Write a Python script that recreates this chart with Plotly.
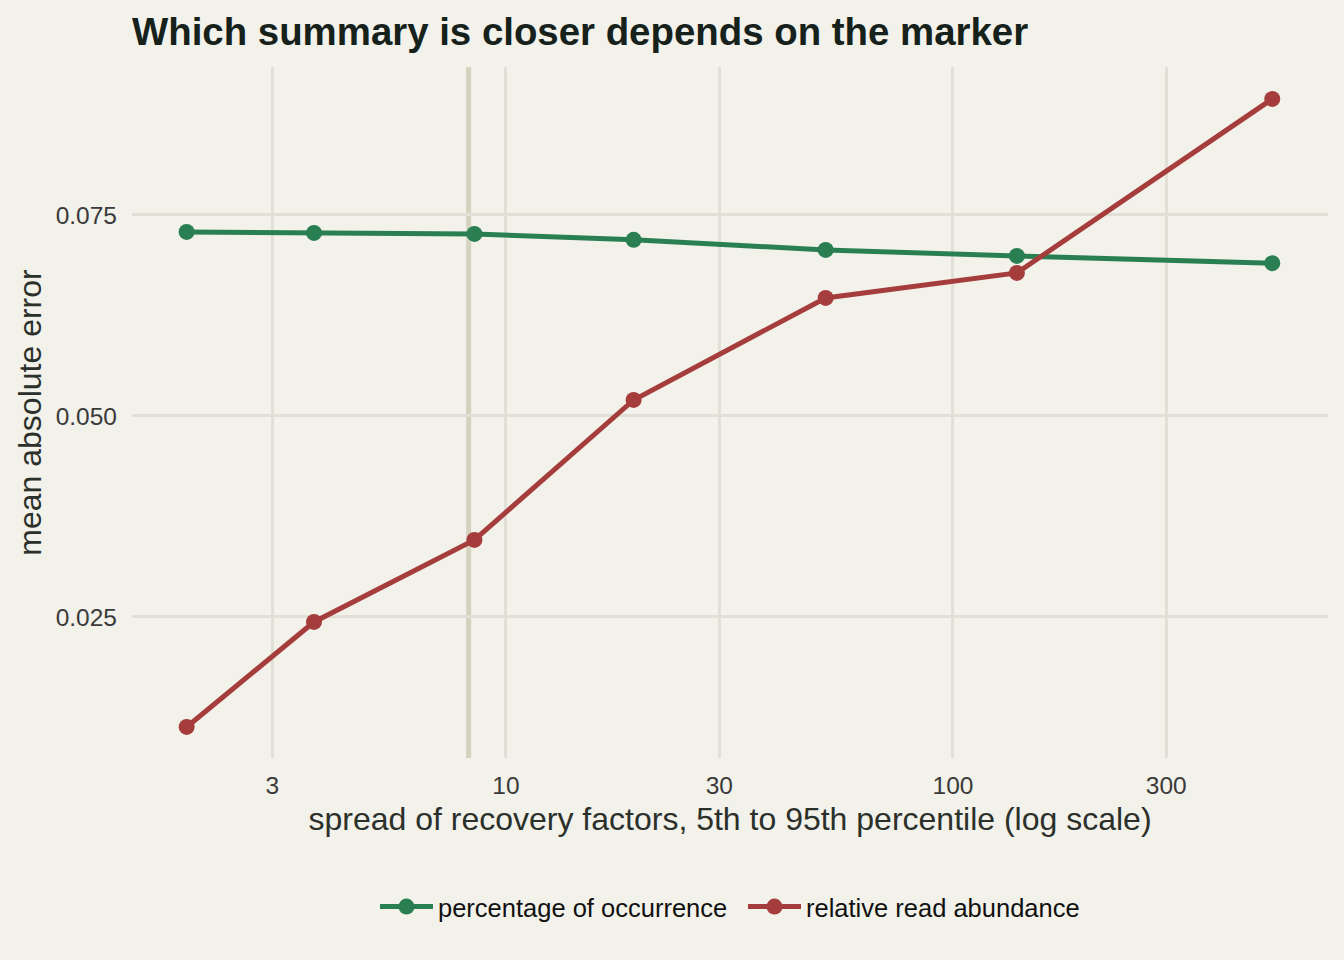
import plotly.graph_objects as go

# data
spread = [1.93, 3.72, 8.50, 19.3, 51.9, 139, 518]
occurrence_mae = [0.07289, 0.07276, 0.07264, 0.0719, 0.07065, 0.0699, 0.0690]
abundance_mae = [0.01132, 0.02438, 0.03458, 0.05199, 0.06468, 0.06779, 0.08943]
ref_spread = 8.25
x_ticks = [3, 10, 30, 100, 300]
x_tick_labels = ["3", "10", "30", "100", "300"]
y_ticks = [0.025, 0.050, 0.075]
y_tick_labels = ["0.025", "0.050", "0.075"]

BG = "#f2f1ea"
GRID = "#e1e0d6"
GREEN = "#2a7f52"
RED = "#a63d3d"
FONT = "Liberation Sans, Arial, Helvetica, sans-serif"

fig = go.Figure()
fig.add_trace(go.Scatter(
    x=spread, y=occurrence_mae, mode="lines+markers",
    name="percentage of occurrence",
    line=dict(color=GREEN, width=5),
    marker=dict(color=GREEN, size=16),
))
fig.add_trace(go.Scatter(
    x=spread, y=abundance_mae, mode="lines+markers",
    name="relative read abundance",
    line=dict(color=RED, width=5),
    marker=dict(color=RED, size=16),
))

fig.add_shape(type="line", xref="x", yref="paper", x0=ref_spread, x1=ref_spread,
              y0=0, y1=1, line=dict(color="#d3d3c0", width=5), layer="below")

fig.update_layout(
    width=1344, height=960,
    paper_bgcolor=BG, plot_bgcolor=BG,
    margin=dict(l=132, r=16, t=67, b=202),
    font=dict(family=FONT, color="#333333"),
    title=dict(text="<b>Which summary is closer depends on the marker</b>",
               x=132/1344, xanchor="left", xref="container",
               y=1 - 32/960, yanchor="middle", yref="container",
               font=dict(size=38.4, color="#15211a", family=FONT)),
    xaxis=dict(type="log", range=[0.1633, 2.839],
               tickvals=x_ticks, ticktext=x_tick_labels,
               showgrid=True, gridcolor=GRID, gridwidth=3,
               zeroline=False, showline=False, ticks="",
               ticklabelstandoff=10,
               tickfont=dict(size=24.5, color="#3a3a3a"),
               title=dict(text="spread of recovery factors, 5th to 95th percentile (log scale)",
                          font=dict(size=32, color="#2b302b"), standoff=10)),
    yaxis=dict(range=[0.00746, 0.0934],
               tickvals=y_ticks, ticktext=y_tick_labels,
               showgrid=True, gridcolor=GRID, gridwidth=3,
               zeroline=False, showline=False, ticks="",
               ticklabelstandoff=14,
               tickfont=dict(size=24.5, color="#3a3a3a"),
               title=dict(text="mean absolute error",
                          font=dict(size=32, color="#2b302b"), standoff=4)),
    legend=dict(orientation="h", x=375/1344, xanchor="left", xref="container",
                y=1 - 907/960, yanchor="middle", yref="container",
                font=dict(size=25.5, color="#111111"), bgcolor="rgba(0,0,0,0)",
                itemwidth=53, entrywidth=300),
    showlegend=True,
)

fig.write_html("out.html")
